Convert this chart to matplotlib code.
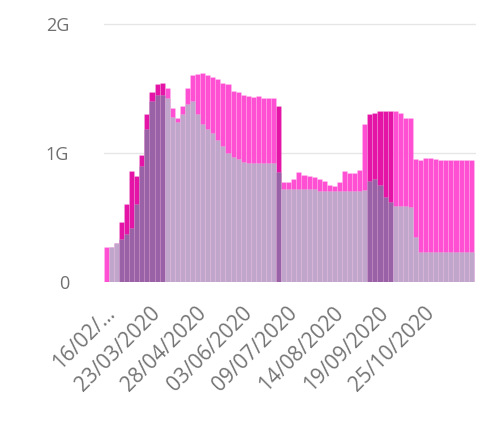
"""
Weekly-ish volume chart: total vs. baseline, 4-day buckets from 16/02/2020
"""

import matplotlib
matplotlib.use('Agg')
import matplotlib.pyplot as plt
import numpy as np

# 4-day buckets starting 16/02/2020
bucket_days = 4
total = [0.27, 0.27, 0.30, 0.46, 0.60, 0.86, 0.82, 0.98, 1.30, 1.47,
         1.53, 1.54, 1.50, 1.35, 1.27, 1.36, 1.50, 1.60, 1.61, 1.62,
         1.60, 1.59, 1.57, 1.54, 1.53, 1.48, 1.47, 1.45, 1.44, 1.43,
         1.44, 1.42, 1.42, 1.42, 1.36, 0.77, 0.77, 0.80, 0.85, 0.83,
         0.82, 0.81, 0.80, 0.78, 0.75, 0.74, 0.77, 0.86, 0.84, 0.84,
         0.87, 1.22, 1.30, 1.31, 1.32, 1.32, 1.32, 1.32, 1.31, 1.27,
         1.27, 0.95, 0.94, 0.96, 0.96, 0.95, 0.94, 0.94, 0.94, 0.94,
         0.94, 0.94, 0.94]
baseline = [0.00, 0.27, 0.30, 0.33, 0.37, 0.42, 0.60, 0.90, 1.18, 1.40,
            1.45, 1.45, 1.42, 1.28, 1.24, 1.30, 1.38, 1.40, 1.30, 1.22,
            1.18, 1.15, 1.10, 1.05, 1.00, 0.97, 0.95, 0.93, 0.92, 0.92,
            0.92, 0.92, 0.92, 0.92, 0.85, 0.72, 0.72, 0.72, 0.72, 0.72,
            0.72, 0.72, 0.70, 0.70, 0.70, 0.70, 0.70, 0.70, 0.70, 0.70,
            0.70, 0.71, 0.78, 0.80, 0.75, 0.66, 0.62, 0.59, 0.59, 0.59,
            0.58, 0.35, 0.23, 0.23, 0.23, 0.23, 0.23, 0.23, 0.23, 0.23,
            0.23, 0.23, 0.23]
# buckets drawn in the darker (highlighted) shade
highlighted = [3, 4, 5, 6, 7, 8, 9, 10, 11, 34, 52, 53, 54, 55, 56]
# buckets with a thin divider line at their start
dividers = [25, 42, 59]

tick_days = [0, 36, 72, 108, 144, 180, 216, 252]
tick_labels = ['16/02/…', '23/03/2020', '28/04/2020', '03/06/2020',
               '09/07/2020', '14/08/2020', '19/09/2020', '25/10/2020']

PINK = '#ff4fd2'
PINK_DARK = '#e414a6'
LAV = '#c0a6ca'
LAV_DARK = '#9a62a6'

plt.rcParams['font.family'] = ['Open Sans', 'DejaVu Sans']

fig = plt.figure(figsize=(4.83, 4.37), dpi=100)
ax = fig.add_axes([0.215, 0.355, 0.771, 0.597])

n = len(total)
x = np.arange(n) * bucket_days
top_colors = [PINK_DARK if i in highlighted else PINK for i in range(n)]
low_colors = [LAV_DARK if i in highlighted else LAV for i in range(n)]

ax.bar(x, total, width=bucket_days, align='edge', color=top_colors,
       edgecolor=(1, 1, 1, 0.25), linewidth=0.4, zorder=2)
ax.bar(x, baseline, width=bucket_days, align='edge', color=low_colors,
       edgecolor=(1, 1, 1, 0.25), linewidth=0.4, zorder=3)
for i in dividers:
    ax.bar(x[i], total[i], width=0.5, align='edge', color='#7a3f88',
           linewidth=0, zorder=4)

ax.set_xlim(0, 294)
ax.set_ylim(0, 2.02)
ax.set_yticks([0, 1, 2])
ax.set_yticklabels(['0', '1G', '2G'])
ax.set_xticks([d + 0.5 for d in tick_days])
ax.set_xticklabels(tick_labels, rotation=45, ha='right',
                   rotation_mode='anchor')

ax.grid(axis='y', color='#e6e6e6', linewidth=1, zorder=0)
ax.set_axisbelow(True)
for s in ax.spines.values():
    s.set_visible(False)
ax.tick_params(axis='y', length=0, pad=25, labelsize=13, labelcolor='#707070')
ax.tick_params(axis='x', length=0, pad=15, labelsize=15, labelcolor='#747474')

fig.savefig('out.png', dpi=100)
